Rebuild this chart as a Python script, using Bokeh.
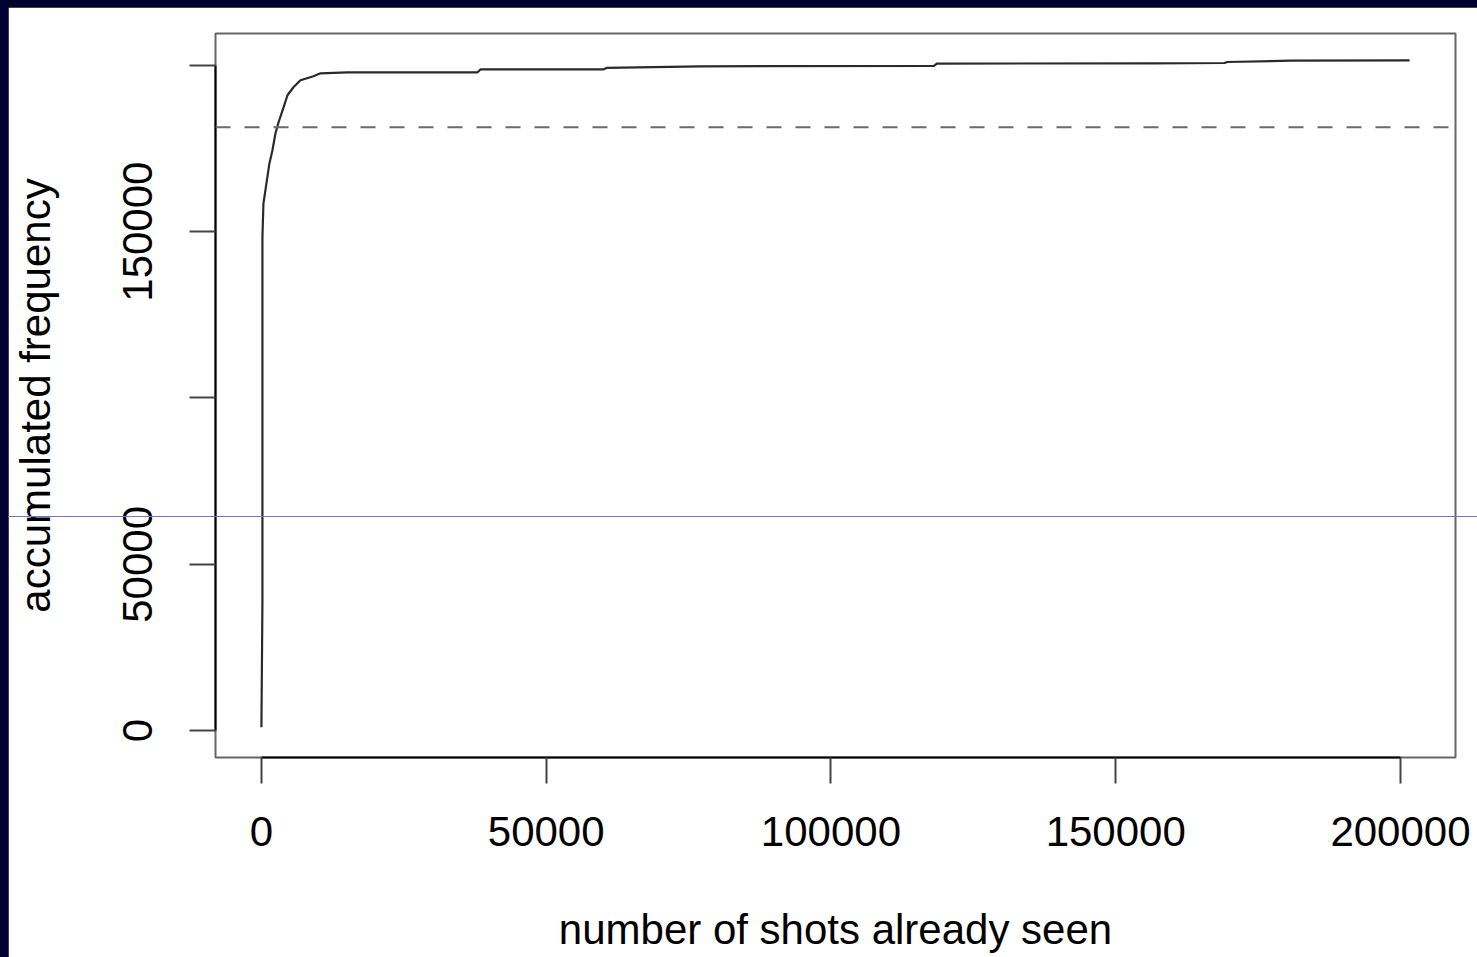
from bokeh.plotting import figure
from bokeh.models import Range1d, FixedTicker, Span, GlobalInlineStyleSheet
from bokeh.embed import file_html
from bokeh.resources import INLINE

# ---- data ----
shots_seen = [0, 176, 176, 176, 350, 880, 1400, 1930, 2460, 3000, 3870, 4570,
              5620, 6850, 9140, 10370, 15110, 37960, 38500, 60100, 60600,
              77150, 118100, 118600, 156200, 169100, 169600, 180800, 201600]
accum_freq = [1000, 38850, 130100, 148200, 158400, 164500, 170500, 174400,
              179500, 182800, 187300, 191000, 193400, 195500, 196700, 197600,
              197900, 197900, 198800, 198800, 199200, 199700, 199800, 200500,
              200600, 200700, 201000, 201400, 201500]
threshold = 181350  # dashed reference line (90% of total)

x_ticks = [0, 50000, 100000, 150000, 200000]
x_tick_labels = ["0", "50000", "100000", "150000", "200000"]
y_ticks = [0, 50000, 100000, 150000, 200000]
y_tick_labels = ["0", "50000", "", "150000", ""]

FONT = "Liberation Sans"
FS = "42px"

css = GlobalInlineStyleSheet(css=(
    "html,body{background:#000030;overflow:hidden;}"
    "body{margin:7px 0 0 8px;padding:0;}"
    "body::after{content:'';position:fixed;left:8px;right:0;top:516px;height:1px;"
    "background:#7a7a9e;z-index:10;pointer-events:none;}"
))

p = figure(width=1469, height=950, output_backend="svg", toolbar_location=None,
           x_range=Range1d(-8064, 209664), y_range=Range1d(-8060, 209560),
           min_border_left=207, min_border_right=22, min_border_top=26, min_border_bottom=200,
           background_fill_color="white", border_fill_color="white")
p.stylesheets = [css]
p.xgrid.visible = False
p.ygrid.visible = False
p.outline_line_color = "#666666"
p.outline_line_width = 2

p.line(shots_seen, accum_freq, line_color="#2a2a2a", line_width=2.2)
p.add_layout(Span(location=threshold, dimension="width", line_color="#6a6a6a",
                  line_width=2, line_dash="15 14"))

for ax, ticks, labels in ((p.xaxis[0], x_ticks, x_tick_labels), (p.yaxis[0], y_ticks, y_tick_labels)):
    ax.ticker = FixedTicker(ticks=ticks, minor_ticks=[])
    ax.major_label_overrides = {t: l for t, l in zip(ticks, labels)}
    ax.bounds = (ticks[0], ticks[-1])
    ax.axis_line_color = "black"
    ax.axis_line_width = 2
    ax.major_tick_line_color = "#444444"
    ax.major_tick_line_width = 2
    ax.major_tick_out = 26
    ax.major_tick_in = 0
    ax.minor_tick_out = 0
    ax.minor_tick_in = 0
    ax.major_label_text_font = FONT
    ax.major_label_text_font_size = FS
    ax.major_label_text_color = "black"
    ax.axis_label_text_font = FONT
    ax.axis_label_text_font_size = FS
    ax.axis_label_text_font_style = "normal"
    ax.axis_label_text_color = "black"

p.xaxis.axis_label = "number of shots already seen"
p.yaxis.axis_label = "accumulated frequency"
p.xaxis.major_label_standoff = 33
p.xaxis.axis_label_standoff = 57
p.yaxis.major_label_orientation = "vertical"
p.yaxis.major_label_standoff = 37
p.yaxis.axis_label_standoff = 62

open("out.html", "w").write(file_html(p, INLINE))
